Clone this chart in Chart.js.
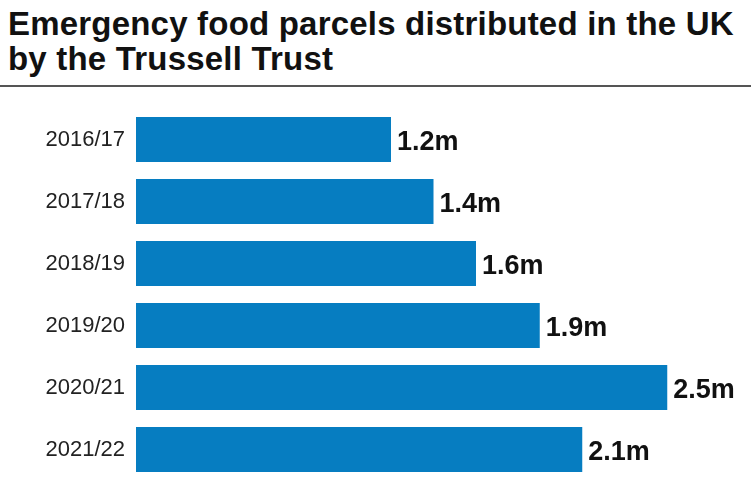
<!DOCTYPE html>
<html>
<head>
<meta charset="utf-8">
<script src="https://cdn.jsdelivr.net/npm/chart.js@4"></script>
<style>
  html, body { margin: 0; padding: 0; background: #fff; overflow: hidden; }
  #wrap { width: 751px; height: 478px; overflow: hidden; position: relative; }
  #title {
    font-family: 'Liberation Sans', Arial, sans-serif;
    font-weight: bold;
    font-size: 33px;
    line-height: 35px;
    letter-spacing: 0.2px;
    color: #111;
    padding: 6px 0 0 8px;
    box-sizing: border-box;
    border-bottom: 2px solid #555;
    height: 87px;
    white-space: nowrap;
  }
  #chart { display: block; }
</style>
</head>
<body>
<div id="wrap">
  <div id="title">Emergency food parcels distributed in the UK<br>by the Trussell Trust</div>
  <canvas id="chart" width="751" height="397"></canvas>
</div>
<script>
// data (millions of parcels)
const years = ['2016/17', '2017/18', '2018/19', '2019/20', '2020/21', '2021/22'];
const parcels = [1.2, 1.4, 1.6, 1.9, 2.5, 2.1];
const valueLabels = ['1.2m', '1.4m', '1.6m', '1.9m', '2.5m', '2.1m'];

const barBlue = '#067dc1';

// writes the value just past the end of each bar
const endLabels = {
  id: 'endLabels',
  afterDatasetsDraw(chart) {
    const ctx = chart.ctx;
    const meta = chart.getDatasetMeta(0);
    ctx.save();
    ctx.font = 'bold 27px "Liberation Sans", Arial, sans-serif';
    ctx.fillStyle = '#111';
    ctx.textAlign = 'left';
    ctx.textBaseline = 'middle';
    meta.data.forEach((bar, i) => {
      ctx.fillText(valueLabels[i], bar.x + 6, bar.y + 3);
    });
    ctx.restore();
  }
};

new Chart(document.getElementById('chart'), {
  type: 'bar',
  data: {
    labels: years,
    datasets: [{
      data: parcels,
      backgroundColor: barBlue,
      borderWidth: 0,
      categoryPercentage: 1,
      barPercentage: 0.726
    }]
  },
  options: {
    indexAxis: 'y',
    responsive: false,
    animation: false,
    layout: { padding: { top: 21.5, bottom: 3.5, right: 20, left: 0 } },
    plugins: {
      legend: { display: false },
      tooltip: { enabled: false }
    },
    scales: {
      x: {
        display: false,
        min: 0,
        max: 2.8
      },
      y: {
        afterFit: (scale) => {
          scale.width = 136;
          // don't let the label heights push the bars inward
          scale.paddingTop = 0;
          scale.paddingBottom = 0;
        },
        grid: { display: false, drawTicks: false },
        border: { display: false },
        ticks: {
          color: '#222',
          padding: 11,
          font: { family: '"Liberation Sans", Arial, sans-serif', size: 22 }
        }
      }
    }
  },
  plugins: [endLabels]
});
</script>
</body>
</html>
